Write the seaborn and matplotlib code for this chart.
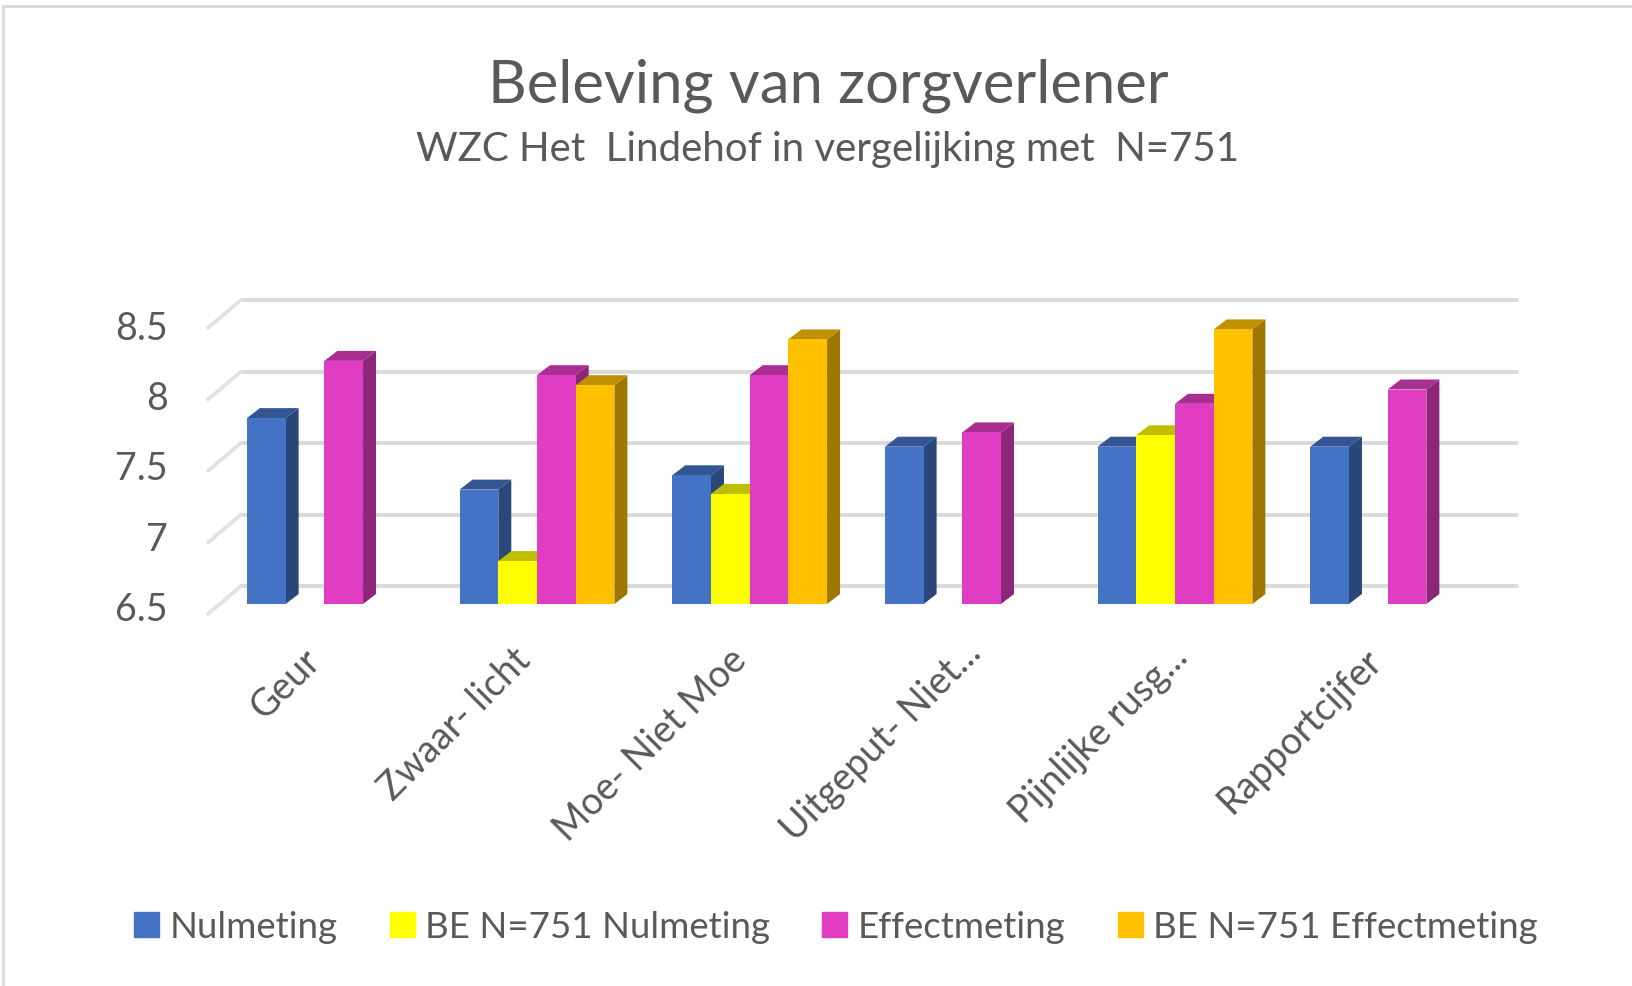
import matplotlib
matplotlib.use('Agg')
import pandas as pd
import numpy as np
import matplotlib.pyplot as plt
import matplotlib.patches as mpatches
import matplotlib.transforms as mtrans
import matplotlib.colors as mcolors
import seaborn as sns

categories = ['Geur', 'Zwaar- licht', 'Moe- Niet Moe', 'Uitgeput- Niet...', 'Pijnlijke rusg...', 'Rapportcijfer']
nulmeting = [7.8, 7.3, 7.4, 7.6, 7.6, 7.6]
be_nulmeting = [np.nan, 6.8, 7.27, np.nan, 7.68, np.nan]
effectmeting = [8.2, 8.1, 8.1, 7.7, 7.9, 8.0]
be_effectmeting = [np.nan, 8.03, 8.35, np.nan, 8.42, np.nan]
series = ['Nulmeting', 'BE N=751 Nulmeting', 'Effectmeting', 'BE N=751 Effectmeting']
colors = ['#4472C4', '#FFFF00', '#E03DC3', '#FFC000']
yticks = [6.5, 7, 7.5, 8, 8.5]
ytick_labels = ['6.5', '7', '7.5', '8', '8.5']
text_color = '#595959'

df = pd.DataFrame({'cat': categories, series[0]: nulmeting, series[1]: be_nulmeting,
                   series[2]: effectmeting, series[3]: be_effectmeting})
df = df.melt(id_vars='cat', var_name='serie', value_name='score')

sns.set_style('white')
plt.rcParams['font.family'] = ['Lato', 'DejaVu Sans']

W, H = 1632, 987
fig = plt.figure(figsize=(W / 100, H / 100), dpi=100)
# plot area in pixels (front plane of the fake 3d chart)
left, right, top, bottom = 218, 1494, 319, 605
ax = fig.add_axes([left / W, 1 - bottom / H, (right - left) / W, (bottom - top) / H])
sns.barplot(data=df, x='cat', y='score', hue='serie', hue_order=series, palette=colors,
            saturation=1, width=0.728, gap=0, ax=ax, legend=False, zorder=3, linewidth=0)
ax.set_xlim(-0.5, 5.5)
ax.set_ylim(6.5, 8.5)
ax.set_xlabel('')
ax.set_ylabel('')
sns.despine(ax=ax, left=True, bottom=True)

px_x = 6 / (right - left)
px_y = 2 / (bottom - top)

# depth faces, taken from the bars seaborn drew
dx, dy = 13, 10
for bar in list(ax.patches):
    h = bar.get_height()
    if not h or np.isnan(h) or bar.get_width() == 0:
        continue
    x0 = bar.get_x()
    x1 = x0 + bar.get_width()
    ytop = bar.get_y() + h
    y0 = 6.5
    ox, oy = dx * px_x, dy * px_y
    base = mcolors.to_rgb(bar.get_facecolor())
    z = bar.get_zorder()
    side = [c * 0.62 for c in base]
    lid = [c * 0.75 for c in base]
    ax.add_patch(mpatches.Polygon([(x1, y0), (x1 + ox, y0 + oy), (x1 + ox, ytop + oy), (x1, ytop)],
                                  closed=True, fc=side, ec='none', zorder=z - 0.1, clip_on=False))
    ax.add_patch(mpatches.Polygon([(x0, ytop), (x0 + ox, ytop + oy), (x1 + ox, ytop + oy), (x1, ytop)],
                                  closed=True, fc=lid, ec='none', zorder=z - 0.1, clip_on=False))

# gridlines on the back wall plus the short diagonals on the left wall
back = ax.transData + mtrans.ScaledTranslation(23 / 100, 18 / 100, fig.dpi_scale_trans)
for v in yticks:
    ax.plot([-0.5, 5.5], [v, v], color='#D9D9D9', lw=2.8, transform=back, zorder=1, clip_on=False)
    ax.plot([-0.5 + 23 * px_x, -0.5 - 10 * px_x], [v + 18 * px_y, v - 10 * px_y], color='#E2E2E2', lw=2.8,
            zorder=1, clip_on=False)

ax.set_yticks(yticks)
ax.set_yticklabels(ytick_labels)
ax.tick_params(axis='y', length=0, pad=36, labelsize=27, labelcolor=text_color)
for lab, v in zip(ax.get_yticklabels(), yticks):
    lab.set_transform(lab.get_transform() + mtrans.ScaledTranslation(0, -(1.5 + (v - 6.5) * 2.5) / 100, fig.dpi_scale_trans))

ax.tick_params(axis='x', length=0, pad=24, labelsize=27, labelcolor=text_color)
plt.setp(ax.get_xticklabels(), rotation=45, ha='right', va='top', rotation_mode='anchor')
# the long labels were cut off in the original, so they sit a bit differently
label_dx = [-23, -25, -22, 0, -6, -24]
label_dy = [-4, -4, -4, 4, 0, -4]
for lab, sx, sy in zip(ax.get_xticklabels(), label_dx, label_dy):
    lab.set_transform(lab.get_transform() + mtrans.ScaledTranslation(sx / 100, sy / 100, fig.dpi_scale_trans))

fig.text(828 / W, 1 - 86 / H, 'Beleving van zorgverlener', fontsize=43, color=text_color, ha='center', va='center')
fig.text(828 / W, 1 - 149 / H, 'WZC Het  Lindehof in vergelijking met  N=751', fontsize=29, color=text_color,
         ha='center', va='center')

handles = [mpatches.Patch(color=c, label=s) for c, s in zip(colors, series)]
fig.legend(handles=handles, loc='center', bbox_to_anchor=(836 / W, 1 - 928 / H), ncol=4, frameon=False,
           fontsize=26.4, labelcolor=text_color, handlelength=0.68, handleheight=0.68, handletextpad=0.29,
           columnspacing=1.42, borderpad=0, borderaxespad=0)

# outer chart border
fig.add_artist(plt.Line2D([3 / W, 3 / W], [0, 1 - 7 / H], color='#D9D9D9', lw=2))
fig.add_artist(plt.Line2D([3 / W, 1], [1 - 7 / H, 1 - 7 / H], color='#D9D9D9', lw=2))

fig.savefig('out.png', dpi=100)
